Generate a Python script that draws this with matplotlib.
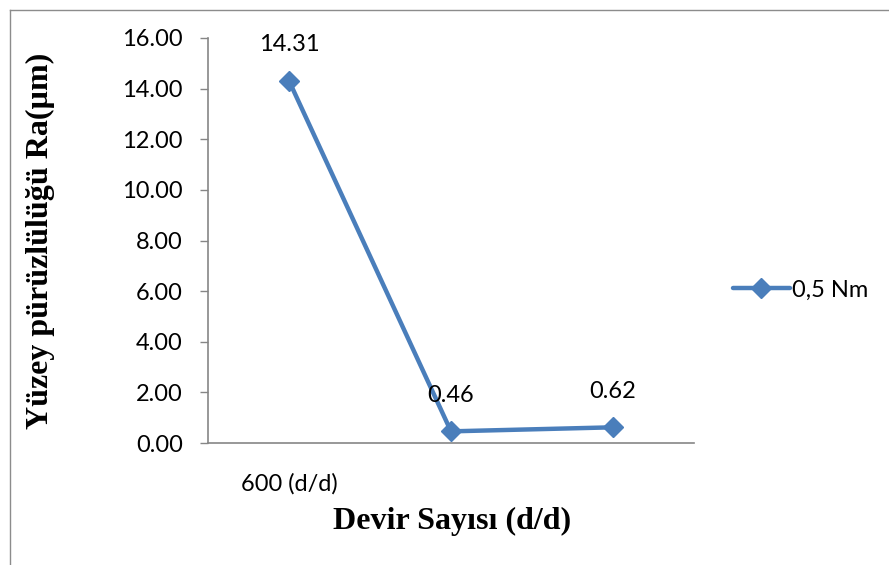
import matplotlib
matplotlib.use("Agg")
import matplotlib.pyplot as plt
from matplotlib.lines import Line2D

categories = ["600 (d/d)", "", ""]
values = [14.31, 0.46, 0.62]
series_name = "0,5 Nm"
y_ticks = [0, 2, 4, 6, 8, 10, 12, 14, 16]

blue = "#4A7EBB"
axis_grey = "#868686"
sans = "Lato"
serif = "Liberation Serif"
W, H = 889, 565

fig = plt.figure(figsize=(W / 100, H / 100), dpi=100)

# chart-area frame (left and top edges fall inside the image)
fig.add_artist(Line2D([9.5 / W, 9.5 / W], [0, 1 - 9.5 / H], transform=fig.transFigure,
                      color="#8c8c8c", linewidth=1.0))
fig.add_artist(Line2D([9.5 / W, 1], [1 - 9.5 / H, 1 - 9.5 / H], transform=fig.transFigure,
                      color="#8c8c8c", linewidth=1.0))

ax = fig.add_axes([208 / W, 1 - 443 / H, (694 - 208) / W, (443 - 38) / H])
x = list(range(len(categories)))
ax.plot(x, values, color=blue, linewidth=3.2, marker="D", markersize=10,
        markerfacecolor=blue, markeredgecolor=blue, solid_capstyle="round",
        clip_on=False, zorder=3)

for xi, v in zip(x, values):
    ax.annotate(f"{v:.2f}", (xi, v), xytext=(0, 26), textcoords="offset points",
                ha="center", va="center", fontsize=17, family=sans)

ax.set_xlim(-0.5, len(categories) - 0.5)
ax.set_ylim(0, 16)
ax.set_yticks(y_ticks)
ax.set_yticklabels([f"{t:.2f}" for t in y_ticks], fontsize=17, family=sans)
ax.set_xticks(x)
ax.set_xticklabels(categories, fontsize=17, family=sans)
ax.tick_params(axis="x", length=0, pad=22)
ax.tick_params(axis="y", length=6, width=1, color=axis_grey, pad=12)

for side in ("top", "right"):
    ax.spines[side].set_visible(False)
for side in ("left", "bottom"):
    ax.spines[side].set_color(axis_grey)
    ax.spines[side].set_linewidth(1.2)

fig.text(40 / W, 1 - 241 / H, "Yüzey pürüzlülüğü Ra(µm)", family=serif,
         fontweight="bold", fontsize=23, rotation=90, ha="center", va="center")
fig.text(452 / W, 1 - 521 / H, "Devir Sayısı (d/d)", family=serif,
         fontweight="bold", fontsize=23, ha="center", va="center")

handle = Line2D([], [], color=blue, linewidth=3.2, marker="D", markersize=10,
                solid_capstyle="round")
fig.legend([handle], [series_name], loc="center left",
           bbox_to_anchor=(733 / W, 1 - 290 / H), frameon=False,
           prop={"family": sans, "size": 17}, handlelength=2.4,
           handletextpad=0.12, borderaxespad=0, borderpad=0)

fig.savefig("out.png", dpi=100)
